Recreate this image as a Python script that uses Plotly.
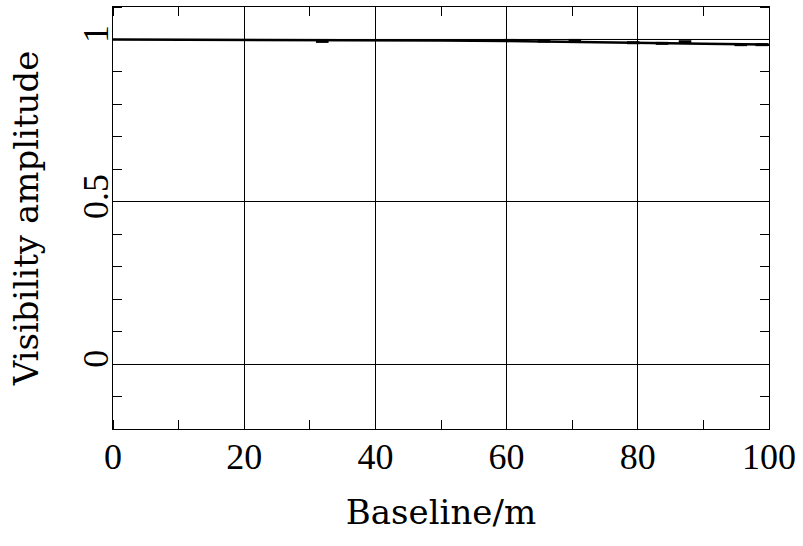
import plotly.graph_objects as go

# Model curves
model_x = [0, 100]
model_y = [1.0, 1.0]

curve_x = [0, 20, 30, 40, 50, 60, 70, 80, 90, 100]
curve_y = [1.0, 0.9995, 0.999, 0.998, 0.9965, 0.995, 0.993, 0.990, 0.987, 0.984]

# Measured points (short dashes)
pts_x = [31.9, 60.5, 65.7, 70.4, 79.3, 83.7, 87.2, 95.7, 98.9]
pts_y = [0.994, 0.997, 0.995, 0.997, 0.990, 0.988, 0.993, 0.984, 0.984]

x_ticks = [0, 20, 40, 60, 80, 100]
y_ticks = [0, 0.5, 1]
y_tick_text = ["0", "0.5", "1"]

fig = go.Figure()
fig.add_trace(go.Scatter(x=model_x, y=model_y, mode="lines",
                         line=dict(color="black", width=1), showlegend=False))
fig.add_trace(go.Scatter(x=curve_x, y=curve_y, mode="lines",
                         line=dict(color="black", width=2.5), showlegend=False))
fig.add_trace(go.Scatter(x=pts_x, y=pts_y, mode="markers",
                         marker=dict(symbol="line-ew", size=9,
                                     line=dict(color="black", width=3)),
                         showlegend=False))

tick_font = dict(family="Liberation Serif", size=36, color="black")
title_font = dict(family="DejaVu Serif", size=34, color="black")

fig.update_layout(
    width=803, height=546,
    margin=dict(l=113, r=34, t=7, b=117),
    paper_bgcolor="white", plot_bgcolor="white",
    xaxis=dict(
        range=[0, 100], tickmode="array", tickvals=x_ticks,
        ticks="", showgrid=True, gridcolor="black", gridwidth=1,
        zeroline=False, showline=True, linecolor="black", linewidth=1,
        mirror="allticks", tickfont=tick_font, ticklabelstandoff=-4,
        minor=dict(dtick=10, ticks="inside", ticklen=9, tickcolor="black",
                   showgrid=False),
        title=dict(text="Baseline/m", font=title_font, standoff=23),
    ),
    yaxis=dict(
        range=[-0.2, 1.1], tickmode="array", tickvals=y_ticks,
        ticktext=y_tick_text, tickangle=-90,
        ticks="", showgrid=True, gridcolor="black", gridwidth=1,
        zeroline=False, showline=True, linecolor="black", linewidth=1,
        mirror="allticks", tickfont=tick_font, ticklabelstandoff=-10,
        minor=dict(dtick=0.1, tick0=0, ticks="inside", ticklen=9,
                   tickcolor="black", showgrid=False),
        title=dict(text="Visibility amplitude", font=title_font, standoff=26),
    ),
)

fig.write_html("out.html")
